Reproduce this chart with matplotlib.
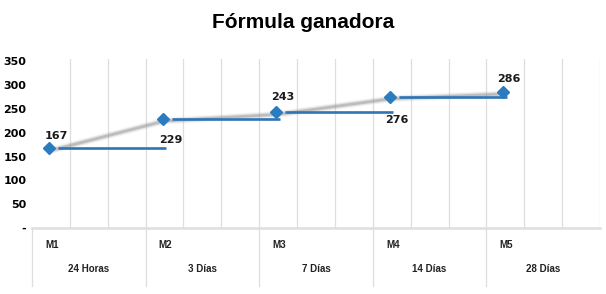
import numpy as np
import matplotlib
matplotlib.use('Agg')
import matplotlib.pyplot as plt
import matplotlib.transforms as mtransforms

# data
stages = ['M1', 'M2', 'M3', 'M4', 'M5']
periods = ['24 Horas', '3 Días', '7 Días', '14 Días', '28 Días']
values = [167, 229, 243, 276, 286]
yticks = [0, 50, 100, 150, 200, 250, 300, 350]
ytick_labels = ['-', '50', '100', '150', '200', '250', '300', '350']

BLUE = '#2a7bc0'
SEG = '#2f75b5'
GRID = '#dedede'

fig = plt.figure(figsize=(6.06, 2.94), dpi=100)
ax = fig.add_axes([32 / 606, 1 - 228 / 294, 568 / 606, 169 / 294])

# each category is 3 grid columns wide; point sits near the left of it
xs = np.arange(len(values)) * 3 + 0.45
ax.set_xlim(0, 15)
ax.set_ylim(0, 355)

for gx in range(1, 16):
    ax.axvline(gx, color=GRID, lw=0.9, zorder=0)

# soft grey "shadow" line between points
for lw, a in [(5, 0.10), (3.5, 0.20), (2.0, 0.50)]:
    off = mtransforms.offset_copy(ax.transData, fig=fig, x=1.0, y=-1.5, units='points')
    ax.plot(xs, values, color='#9a9a9a', lw=lw, alpha=a, transform=off,
            solid_capstyle='round', zorder=2)

# blue horizontal steps
for i in range(len(values) - 1):
    ax.plot([xs[i] + 0.24, xs[i + 1] + 0.09], [values[i], values[i]],
            color=SEG, lw=1.9, zorder=3, solid_capstyle='butt')

ax.plot(xs, values, ls='none', marker='D', ms=6.2, color=BLUE, zorder=4)

label_off = [(5, 9), (6, -15), (5, 11), (5, -17), (4, 9)]
for x, v, (dx, dy) in zip(xs, values, label_off):
    ax.annotate(str(v), (x, v), xytext=(dx, dy), textcoords='offset points',
                ha='center', va='center', fontsize=8, fontweight='bold',
                family='DejaVu Sans', color='#1a1a1a')

for s in ['top', 'right', 'left']:
    ax.spines[s].set_visible(False)
ax.spines['bottom'].set_color(GRID)
ax.spines['bottom'].set_linewidth(1.8)

ax.set_xticks([])
ax.set_yticks(yticks)
ax.set_yticklabels(ytick_labels, fontsize=8, fontweight='bold', family='DejaVu Sans')
ax.tick_params(axis='y', length=0, pad=4)

# category table under the axis
trans = mtransforms.blended_transform_factory(ax.transData, ax.transAxes)
for b in range(0, 15, 3):
    ax.plot([b, b], [0, -0.345], color=GRID, lw=0.9, transform=trans, clip_on=False)
for i, (st, per) in enumerate(zip(stages, periods)):
    ax.text(3 * i + 0.35, -0.10, st, transform=trans, ha='left', va='center',
            fontsize=7, fontweight='bold', family='Liberation Sans', color='#222222')
    ax.text(3 * i + 1.5, -0.24, per, transform=trans, ha='center', va='center',
            fontsize=7, fontweight='bold', family='Liberation Sans', color='#222222')

fig.text(0.5, 1 - 22 / 294, 'Fórmula ganadora', ha='center', va='center',
         fontsize=15, fontweight='bold', family='Liberation Sans')

fig.savefig('out.png', dpi=100)
